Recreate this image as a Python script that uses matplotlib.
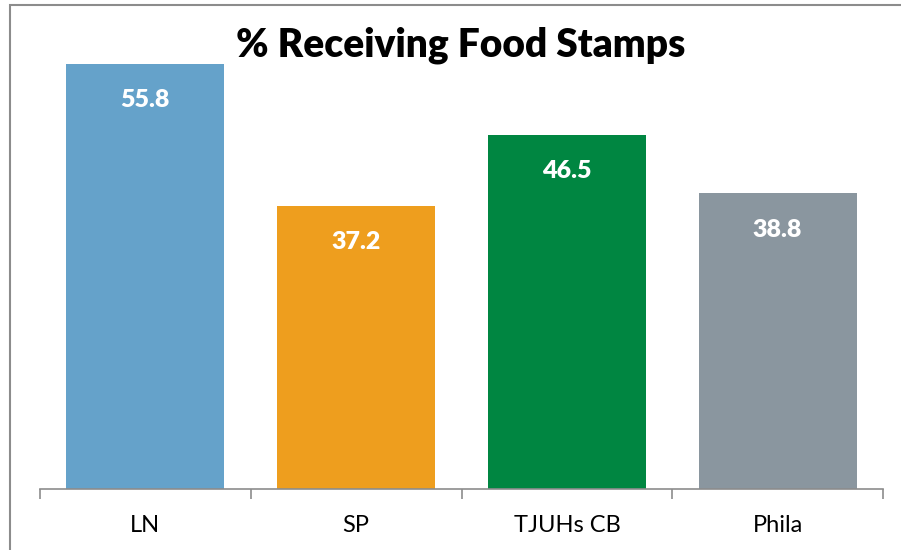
import matplotlib.pyplot as plt
from matplotlib.patches import Rectangle
import numpy as np

# % receiving food stamps, by area
areas = ['LN', 'SP', 'TJUHs CB', 'Phila']
pct_food_stamps = [55.8, 37.2, 46.5, 38.8]
bar_colors = ['#65a2ca', '#ee9e1e', '#008641', '#8a969f']

plt.rcParams['font.family'] = ['Lato', 'DejaVu Sans']

fig = plt.figure(figsize=(9.01, 5.5), dpi=100)
ax = fig.add_axes([40 / 901, 1 - 489 / 550, 843 / 901, 457 / 550])

x = np.arange(len(areas))
bars = ax.bar(x, pct_food_stamps, width=0.75, color=bar_colors)

for b, v in zip(bars, pct_food_stamps):
    ax.annotate(f'{v}', (b.get_x() + b.get_width() / 2, v),
                xytext=(0, -26), textcoords='offset points',
                ha='center', va='center', color='white',
                fontsize=18, fontweight='heavy')

ax.set_xlim(-0.5, len(areas) - 0.5)
ax.set_ylim(0, 60)
ax.set_xticks(x)
ax.set_xticklabels(areas, fontsize=17)
ax.tick_params(axis='x', which='major', length=0, pad=19)
ax.set_xticks(np.arange(len(areas) + 1) - 0.5, minor=True)
ax.tick_params(axis='x', which='minor', length=7, width=1.2, color='#8c8c8c')
ax.set_yticks([])
for s in ['top', 'right', 'left']:
    ax.spines[s].set_visible(False)
ax.spines['bottom'].set_color('#8c8c8c')
ax.spines['bottom'].set_linewidth(1.2)

fig.text(461 / 901, 1 - 45 / 550, '% Receiving Food Stamps',
         ha='center', va='center', fontsize=28, fontweight='heavy')

# outer chart border (only top/left visible in the crop)
fig.patches.append(Rectangle((10 / 901, -0.1), 1.2, 1.1 - 5 / 550,
                             transform=fig.transFigure, fill=False,
                             edgecolor='#8c8c8c', linewidth=1.5))

fig.savefig('out.png', dpi=100)
